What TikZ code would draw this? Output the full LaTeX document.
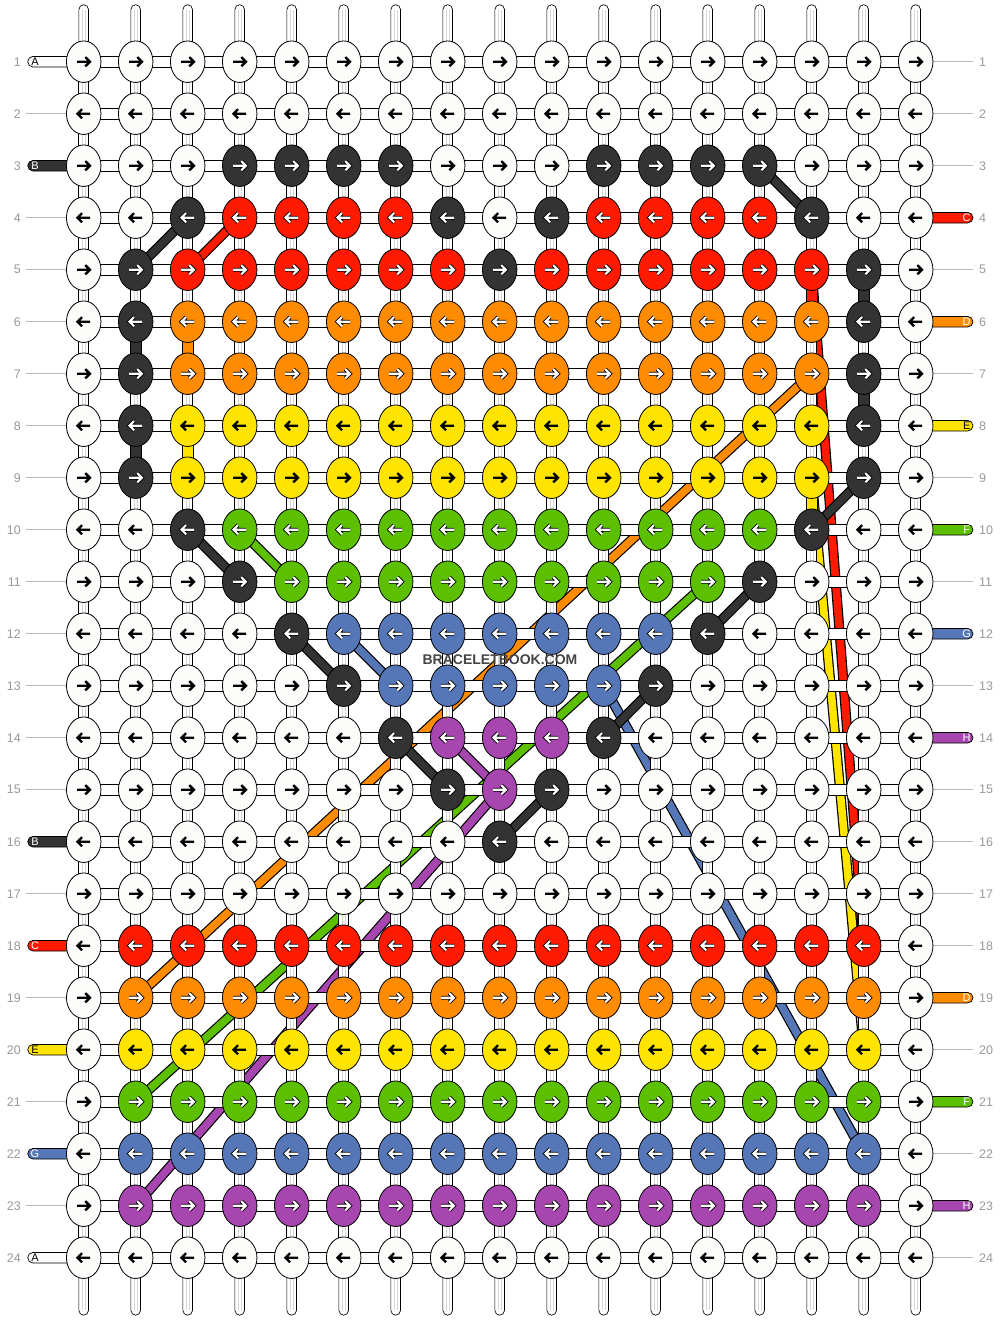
\documentclass[tikz,border=0pt]{standalone}
\usepackage{fontspec}
\setmainfont{Liberation Sans}
\setsansfont{Liberation Sans}
\usetikzlibrary{shapes.geometric}
\definecolor{kW}{HTML}{FCFCFA}
\definecolor{kK}{HTML}{333333}
\definecolor{kR}{HTML}{FF1A00}
\definecolor{kO}{HTML}{FF8C00}
\definecolor{kY}{HTML}{FFE400}
\definecolor{kG}{HTML}{5CBF00}
\definecolor{kB}{HTML}{5677B7}
\definecolor{kP}{HTML}{A846AF}
\definecolor{lbl}{HTML}{9A9A9A}
\newcommand\myknot[3]{%
  \node[knot, fill=k#3] (k-#1-#2) at (p-#1-#2) {};
  \ifodd#2\relax\def\sx{1}\else\def\sx{-1}\fi
  \begin{scope}[shift={(p-#1-#2)}, xscale=\sx]
    \draw[arr-#3] (-6.5,0) -- (5.6,0) (1.6,-4.6) -- (6.2,0) -- (1.6,4.6);
  \end{scope}}
\newcommand\myrow[2]{\foreach \k [count=\c] in {#2} {\edef\tmp{\noexpand\myknot{\c}{#1}{\k}}\tmp}}
\begin{document}
\begin{tikzpicture}[x=1pt,y=-1pt,
  knot/.style={ellipse, draw=black, line width=0.8pt, minimum width=34.5pt, minimum height=41.5pt, inner sep=0pt},
  con/.style={draw=black, fill=white, line width=0.65pt},
  ccon/.style={draw=black, fill=#1, line width=0.65pt},
  inner/.style={draw=black!16, line width=0.45pt},
  thr/.style={line width=7.6pt, draw=#1, preaction={draw=black, line width=10pt}},
  arrK/.style={draw=black, line width=2.4pt, line join=miter},
  arrW/.style={draw=white, line width=2.1pt, line join=miter, preaction={draw=black, line width=3.9pt, line join=miter}},
  arr-W/.style={arrK}, arr-Y/.style={arrK}, arr-K/.style={arrW}, arr-R/.style={arrW},
  arr-O/.style={arrW}, arr-G/.style={arrW}, arr-B/.style={arrW}, arr-P/.style={arrW},
  num/.style={font=\fontsize{12.5}{12.5}\selectfont, text=lbl, inner sep=0pt},
  lett/.style={font=\fontsize{11}{11}\selectfont, inner sep=0pt},
  gline/.style={draw=lbl!70, line width=0.7pt},
  pill/.style={draw=black, fill=#1, line width=0.7pt, rounded corners=5.3pt},
  wmark/.style={font=\fontsize{14}{14}\selectfont\bfseries, inner sep=1pt}
]
\fill[white] (0,0) rectangle (1000,1320);
\useasboundingbox (0,0) rectangle (1000,1320);

% grid coordinates
\foreach \c in {1,...,17} {\foreach \r in {1,...,24} {
  \coordinate (p-\c-\r) at ({83.7+52*(\c-1)},{61.7+52*(\r-1)});}}

% top and bottom strand ends
\foreach \c in {1,...,17} {
  \draw[con, rounded corners=4.8pt] ([shift={(-4.8,-57)}]p-\c-1) rectangle ([shift={(4.8,-14)}]p-\c-1);
  \draw[inner] ([shift={(-1.6,-52)}]p-\c-1) -- ([shift={(-1.6,-15)}]p-\c-1)
               ([shift={(1.6,-52)}]p-\c-1) -- ([shift={(1.6,-15)}]p-\c-1);
  \draw[con, rounded corners=4.8pt] ([shift={(-4.8,14)}]p-\c-24) rectangle ([shift={(4.8,57.5)}]p-\c-24);
  \draw[inner] ([shift={(-1.6,15)}]p-\c-24) -- ([shift={(-1.6,52.5)}]p-\c-24)
               ([shift={(1.6,15)}]p-\c-24) -- ([shift={(1.6,52.5)}]p-\c-24);
}

% left and right labels
\foreach \r in {1,...,24} {
  \node[num, anchor=east] (ln-\r) at ([xshift=-62.7pt]p-1-\r) {\r};
  \node[num, anchor=west] (rn-\r) at ([xshift=63.3pt]p-17-\r) {\r};
}
\foreach \r in {2,4,5,6,7,8,9,10,11,12,13,14,15,17,19,21,23} {
  \draw[gline] ([xshift=-57.5pt]p-1-\r) -- ([xshift=-14pt]p-1-\r);
}
\foreach \r in {1,2,3,5,7,9,11,13,15,16,17,18,20,22,24} {
  \draw[gline] ([xshift=14pt]p-17-\r) -- ([xshift=57.5pt]p-17-\r);
}
\foreach \r/\col/\ltr/\tc in {1/kW/A/black, 3/kK/B/white, 16/kK/B/white, 18/kR/C/white, 20/kY/E/black, 22/kB/G/white, 24/kW/A/black} {
  \draw[pill=\col] ([shift={(-56,-5.3)}]p-1-\r) rectangle ([shift={(-12,5.3)}]p-1-\r);
  \node[lett, text=\tc] (ll-\r) at ([xshift=-48.7pt]p-1-\r) {\ltr};
}
\foreach \r/\col/\ltr/\tc in {4/kR/C/white, 6/kO/D/white, 8/kY/E/black, 10/kG/F/white, 12/kB/G/white, 14/kP/H/white, 19/kO/D/white, 21/kG/F/white, 23/kP/H/white} {
  \draw[pill=\col] ([shift={(12,-5.3)}]p-17-\r) rectangle ([shift={(57.3,5.3)}]p-17-\r);
  \node[lett, text=\tc] (rl-\r) at ([xshift=51pt]p-17-\r) {\ltr};
}

% threads crossing the pattern
\draw[thr=kR] (p-15-5) -- (p-16-18);
\draw[thr=kY] (p-15-9) -- (p-16-20);
\draw[thr=kO] (p-15-7) -- (p-2-19);
\draw[thr=kG] (p-13-11) -- (p-2-21);
\draw[thr=kB] (p-11-13) -- (p-16-22);
\draw[thr=kP] (p-9-15) -- (p-2-23);
\draw[thr=kR] (p-4-4) -- (p-3-5);
\draw[thr=kG] (p-4-10) -- (p-5-11);
\draw[thr=kB] (p-6-12) -- (p-7-13);
\draw[thr=kP] (p-8-14) -- (p-9-15);
\draw[thr=kK] (p-14-3) -- (p-15-4);
\draw[thr=kK] (p-3-4) -- (p-2-5);
\draw[thr=kK] (p-3-10) -- (p-4-11);
\draw[thr=kK] (p-5-12) -- (p-6-13);
\draw[thr=kK] (p-7-14) -- (p-8-15);
\draw[thr=kK] (p-9-16) -- (p-10-15);
\draw[thr=kK] (p-11-14) -- (p-12-13);
\draw[thr=kK] (p-13-12) -- (p-14-11);
\draw[thr=kK] (p-15-10) -- (p-16-9);

% horizontal connectors
\foreach \c in {1,...,16} {\foreach \r in {1,...,24} {
  \draw[con] ([shift={(14,-5.5)}]p-\c-\r) rectangle ([shift={(38,5.5)}]p-\c-\r);}}
% vertical connectors
\foreach \c in {1,...,17} {\foreach \r in {1,...,23} {
  \draw[con] ([shift={(-5,16)}]p-\c-\r) rectangle ([shift={(5,36)}]p-\c-\r);
  \draw[inner] ([shift={(-1.6,16)}]p-\c-\r) -- ([shift={(-1.6,36)}]p-\c-\r)
               ([shift={(1.6,16)}]p-\c-\r) -- ([shift={(1.6,36)}]p-\c-\r);}}
\foreach \c/\r/\col in {2/6/kK, 2/8/kK, 3/6/kO, 3/8/kY, 16/5/kK, 16/7/kK, 15/5/kR, 15/9/kY} {
  \draw[ccon=\col] ([shift={(-5.3,16)}]p-\c-\r) rectangle ([shift={(5.3,36)}]p-\c-\r);}

% knots
\myrow{1}{W,W,W,W,W,W,W,W,W,W,W,W,W,W,W,W,W}
\myrow{2}{W,W,W,W,W,W,W,W,W,W,W,W,W,W,W,W,W}
\myrow{3}{W,W,W,K,K,K,K,W,W,W,K,K,K,K,W,W,W}
\myrow{4}{W,W,K,R,R,R,R,K,W,K,R,R,R,R,K,W,W}
\myrow{5}{W,K,R,R,R,R,R,R,K,R,R,R,R,R,R,K,W}
\myrow{6}{W,K,O,O,O,O,O,O,O,O,O,O,O,O,O,K,W}
\myrow{7}{W,K,O,O,O,O,O,O,O,O,O,O,O,O,O,K,W}
\myrow{8}{W,K,Y,Y,Y,Y,Y,Y,Y,Y,Y,Y,Y,Y,Y,K,W}
\myrow{9}{W,K,Y,Y,Y,Y,Y,Y,Y,Y,Y,Y,Y,Y,Y,K,W}
\myrow{10}{W,W,K,G,G,G,G,G,G,G,G,G,G,G,K,W,W}
\myrow{11}{W,W,W,K,G,G,G,G,G,G,G,G,G,K,W,W,W}
\myrow{12}{W,W,W,W,K,B,B,B,B,B,B,B,K,W,W,W,W}
\myrow{13}{W,W,W,W,W,K,B,B,B,B,B,K,W,W,W,W,W}
\myrow{14}{W,W,W,W,W,W,K,P,P,P,K,W,W,W,W,W,W}
\myrow{15}{W,W,W,W,W,W,W,K,P,K,W,W,W,W,W,W,W}
\myrow{16}{W,W,W,W,W,W,W,W,K,W,W,W,W,W,W,W,W}
\myrow{17}{W,W,W,W,W,W,W,W,W,W,W,W,W,W,W,W,W}
\myrow{18}{W,R,R,R,R,R,R,R,R,R,R,R,R,R,R,R,W}
\myrow{19}{W,O,O,O,O,O,O,O,O,O,O,O,O,O,O,O,W}
\myrow{20}{W,Y,Y,Y,Y,Y,Y,Y,Y,Y,Y,Y,Y,Y,Y,Y,W}
\myrow{21}{W,G,G,G,G,G,G,G,G,G,G,G,G,G,G,G,W}
\myrow{22}{W,B,B,B,B,B,B,B,B,B,B,B,B,B,B,B,W}
\myrow{23}{W,P,P,P,P,P,P,P,P,P,P,P,P,P,P,P,W}
\myrow{24}{W,W,W,W,W,W,W,W,W,W,W,W,W,W,W,W,W}

% watermark
\node[wmark, text=black!73] (wm) at (500,660) {BRACELETBOOK.COM};
\end{tikzpicture}
\end{document}
